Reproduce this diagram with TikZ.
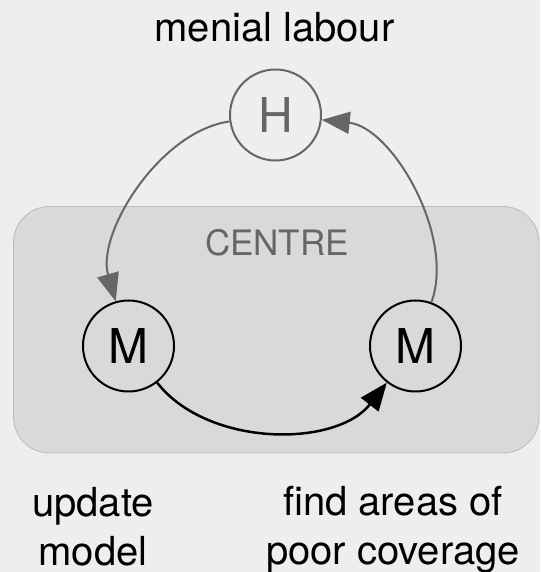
\documentclass[tikz,border=0pt]{standalone}
\usepackage{fontspec}
\setmainfont{TeX Gyre Heros}
\usetikzlibrary{arrows.meta}

\definecolor{pagebg}{HTML}{EEEEEE}
\definecolor{centrebg}{HTML}{D9D9D9}
\definecolor{centreline}{HTML}{BBBBBB}
\definecolor{humangray}{HTML}{666666}

\tikzset{
  actor/.style={circle, draw, line width=2pt, minimum size=91pt, inner sep=0pt,
    font=\fontsize{48}{48}\selectfont},
  caption/.style={inner sep=0pt, align=center, font=\fontsize{40}{49}\selectfont},
  flow/.style={line width=2.5pt, -{Triangle[length=28pt,width=22pt]}},
}

\begin{document}
\begin{tikzpicture}[x=1pt, y=1pt]
    \fill[pagebg] (0,0) rectangle (540,572);
    \useasboundingbox (0,0) rectangle (540,572);
    \filldraw[fill=centrebg, draw=centreline, line width=0.8pt, rounded corners=36pt]
        (13.5,119) rectangle (539,365.5);
    \node[inner sep=0pt, text=humangray, font=\fontsize{35}{35}\selectfont] (centre) at (277,329.5) {CENTRE};

    \node[actor, draw=humangray, text=humangray] (H) at (275.5,457) {H};
    \node[actor] (Mupdate) at (128.5,226) {M};
    \node[actor] (Mfind) at (415.5,226) {M};

    \node[caption, anchor=base] (labour) at (274.5,530) {menial labour};
    \node[caption, anchor=north] (update) at (93,85) {update\\model};
    \node[caption, anchor=north] (find) at (393,86) {find areas of\\poor coverage};

    \draw[flow, humangray, line width=2pt] (H) to[out=188, in=106, looseness=0.85] (Mupdate);
    \draw[flow] (Mupdate) to[out=-52, in=-128, looseness=0.92] (Mfind);
    \draw[flow, humangray, line width=2pt] (Mfind) to[out=70, in=-6, looseness=0.85] (H);
\end{tikzpicture}
\end{document}
